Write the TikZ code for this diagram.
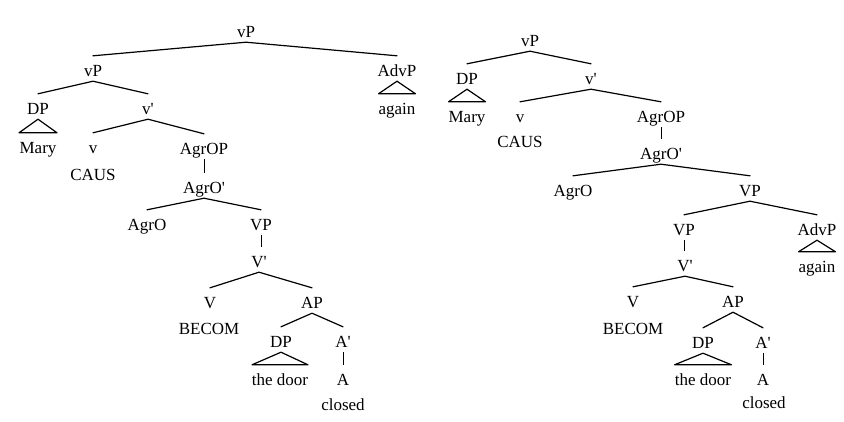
\documentclass[tikz,border=0pt]{standalone}
\usepackage{fontspec}
\setmainfont{Liberation Serif}[Ligatures=TeXOff]
\begin{document}
\begin{tikzpicture}[x=1pt,y=-1pt,
  lbl/.style={font=\fontsize{17}{20}\selectfont, inner sep=0pt, text height=20pt, text depth=5pt, anchor=base},
  edge/.style={line width=1.2pt, line cap=round, line join=round},
  vedge/.style={line width=0.8pt}]
\useasboundingbox (0,0) rectangle (844,421);
% ---------------- left tree ----------------
\node[lbl] (lvP)    at (246,37)  {vP};
\node[lbl] (lvPb)   at (93,76)   {vP};
\node[lbl] (lAdvP)  at (397,76)  {AdvP};
\node[lbl] (lagain) at (397,114) {again};
\node[lbl] (lDP)    at (38,114)  {DP};
\node[lbl] (lvbar)  at (148,114) {v'};
\node[lbl] (lMary)  at (38,153)  {Mary};
\node[lbl] (lv)     at (93,153)  {v};
\node[lbl] (lAgrOP) at (204,154) {AgrOP};
\node[lbl] (lCAUS)  at (93,180)  {CAUS};
\node[lbl] (lAgrObar) at (204,193) {AgrO'};
\node[lbl] (lAgrO)  at (147,230) {AgrO};
\node[lbl] (lVP)    at (261,230) {VP};
\node[lbl] (lVbar)  at (259,267) {V'};
\node[lbl] (lV)     at (210,308) {V};
\node[lbl] (lAP)    at (312,308) {AP};
\node[lbl] (lBECOM) at (209,334) {BECOM};
\node[lbl] (lDPb)   at (281,347) {DP};
\node[lbl] (lAbar)  at (343,347) {A'};
\node[lbl] (ldoor)  at (280,385) {the door};
\node[lbl] (lA)     at (343,385) {A};
\node[lbl] (lclosed) at (343,410) {closed};
\draw[edge] (lvPb.north) -- (lvP.south) -- (lAdvP.north);
\draw[edge] (lDP.north) -- (lvPb.south) -- (lvbar.north);
\draw[edge] (lAdvP.south) -- ([xshift=-18.5pt]lagain.north) -- ([xshift=18.5pt]lagain.north) -- cycle;
\draw[edge] (lDP.south) -- ([xshift=-19pt]lMary.north) -- ([xshift=19pt]lMary.north) -- cycle;
\draw[edge] (lv.north) -- (lvbar.south) -- (lAgrOP.north);
\draw[vedge] (lAgrOP.south) -- (lAgrObar.north);
\draw[edge] (lAgrO.north) -- (lAgrObar.south) -- (lVP.north);
\draw[vedge] (lVP.south) -- (lVP.south |- lVbar.north);
\draw[edge] (lV.north) -- (lVbar.south) -- (lAP.north);
\draw[edge] (lDPb.north) -- (lAP.south) -- (lAbar.north);
\draw[edge] (lDPb.south) -- ([xshift=-28pt]ldoor.north) -- ([xshift=28pt]ldoor.north) -- cycle;
\draw[vedge] (lAbar.south) -- (lA.north);
% ---------------- right tree ----------------
\node[lbl] (rvP)    at (530,46)  {vP};
\node[lbl] (rDP)    at (467,84)  {DP};
\node[lbl] (rvbar)  at (591,84)  {v'};
\node[lbl] (rMary)  at (467,122) {Mary};
\node[lbl] (rv)     at (520,122) {v};
\node[lbl] (rAgrOP) at (661,122) {AgrOP};
\node[lbl] (rCAUS)  at (520,147) {CAUS};
\node[lbl] (rAgrObar) at (661,159) {AgrO'};
\node[lbl] (rAgrO)  at (573,196) {AgrO};
\node[lbl] (rVP)    at (750,196) {VP};
\node[lbl] (rVPb)   at (684,235) {VP};
\node[lbl] (rAdvP)  at (817,235) {AdvP};
\node[lbl] (rVbar)  at (685,271) {V'};
\node[lbl] (ragain) at (817,272) {again};
\node[lbl] (rV)     at (633,307) {V};
\node[lbl] (rAP)    at (733,307) {AP};
\node[lbl] (rBECOM) at (633,334) {BECOM};
\node[lbl] (rDPb)   at (703,348) {DP};
\node[lbl] (rAbar)  at (763,348) {A'};
\node[lbl] (rdoor)  at (703,385) {the door};
\node[lbl] (rA)     at (763,385) {A};
\node[lbl] (rclosed) at (764,408) {closed};
\draw[edge] (rDP.north) -- (rvP.south) -- (rvbar.north);
\draw[edge] (rDP.south) -- ([xshift=-18.5pt]rMary.north) -- ([xshift=18.5pt]rMary.north) -- cycle;
\draw[edge] (rv.north) -- (rvbar.south) -- (rAgrOP.north);
\draw[vedge] (rAgrOP.south) -- (rAgrObar.north);
\draw[edge] (rAgrO.north) -- (rAgrObar.south) -- (rVP.north);
\draw[edge] (rVPb.north) -- (rVP.south) -- (rAdvP.north);
\draw[vedge] (rVPb.south) -- (rVPb.south |- rVbar.north);
\draw[edge] (rAdvP.south) -- ([xshift=-18.5pt]ragain.north) -- ([xshift=18.5pt]ragain.north) -- cycle;
\draw[edge] (rV.north) -- (rVbar.south) -- (rAP.north);
\draw[edge] (rDPb.north) -- (rAP.south) -- (rAbar.north);
\draw[edge] (rDPb.south) -- ([xshift=-28.5pt]rdoor.north) -- ([xshift=28.5pt]rdoor.north) -- cycle;
\draw[vedge] (rAbar.south) -- (rA.north);
\end{tikzpicture}
\end{document}
